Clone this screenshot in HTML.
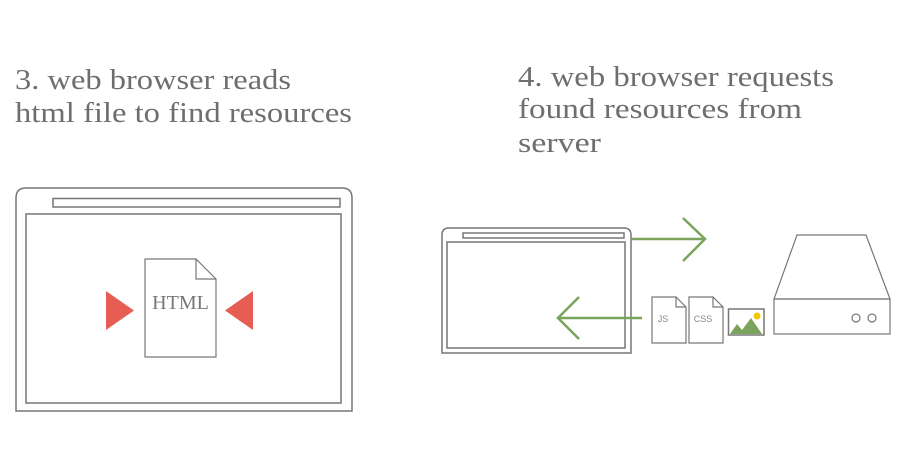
<!DOCTYPE html>
<html><head><style>html,body{margin:0;padding:0;background:#fff}svg{display:block}</style></head>
<body>
<svg width="900" height="450" viewBox="0 0 900 450" xmlns="http://www.w3.org/2000/svg">
<g font-family="Liberation Serif, serif" font-size="29" fill="#6e6e6e">
<text x="15" y="89" textLength="276" lengthAdjust="spacingAndGlyphs">3. web browser reads</text>
<text x="15" y="122" textLength="337" lengthAdjust="spacingAndGlyphs">html file to find resources</text>
<text x="518" y="86" textLength="316" lengthAdjust="spacingAndGlyphs">4. web browser requests</text>
<text x="518" y="118" textLength="284" lengthAdjust="spacingAndGlyphs">found resources from</text>
<text x="518" y="152" textLength="83" lengthAdjust="spacingAndGlyphs">server</text>
</g>
<g fill="none" stroke="#777" stroke-width="1.5">
<path d="M16,411 V198 Q16,188 26,188 H342 Q352,188 352,198 V411 Z"/>
<rect x="53" y="198.5" width="287" height="8.5"/>
<rect x="26" y="214" width="315" height="189"/>
<path d="M145,259 H196 L216,279 V357 H145 Z M196,259 V279 H216" stroke-width="1.2"/>
<path d="M442,353 V235 Q442,228 449,228 H624 Q631,228 631,235 V353 Z"/>
<rect x="463" y="233" width="161" height="5"/>
<rect x="447" y="242" width="178" height="106"/>
<path d="M652,297 H676 L686,307 V343 H652 Z M676,297 V307 H686" stroke-width="1.2"/>
<path d="M689,297 H713 L723,307 V343 H689 Z M713,297 V307 H723" stroke-width="1.2"/>
<rect x="728.5" y="309" width="35.5" height="26"/>
<path d="M797,235 H866 L890,299 H774 Z" stroke-width="1.2"/>
<rect x="774" y="299" width="116" height="35" stroke-width="1.2"/>
<circle cx="856" cy="318" r="4" stroke-width="1.2"/>
<circle cx="872" cy="318" r="4" stroke-width="1.2"/>
</g>
<text x="180.5" y="309" font-family="Liberation Serif, serif" font-size="20" fill="#777" text-anchor="middle">HTML</text>
<text x="663" y="322" font-family="Liberation Sans, sans-serif" font-size="9" fill="#888" text-anchor="middle">JS</text>
<text x="703" y="322" font-family="Liberation Sans, sans-serif" font-size="9" fill="#888" text-anchor="middle">CSS</text>
<polygon points="106,291 134,310.5 106,330" fill="#e65d53"/>
<polygon points="253,291 225,310.5 253,330" fill="#e65d53"/>
<polygon points="730,334 737,324 742,330 751,318 762,334" fill="#7aa35c"/>
<circle cx="757" cy="316" r="3.5" fill="#f0c800"/>
<g fill="none" stroke="#7aa35c" stroke-width="2.5">
<path d="M631,239 H704 M683,218 L705,239 L683,261"/>
<path d="M642,318 H559 M579,297 L558,318 L579,339"/>
</g>
</svg>
</body></html>
